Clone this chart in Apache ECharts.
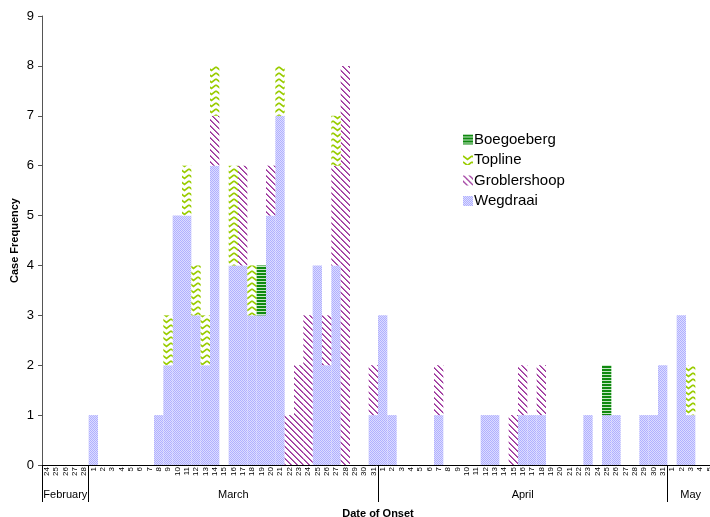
<!DOCTYPE html>
<html>
<head>
<meta charset="utf-8">
<script src="https://cdn.jsdelivr.net/npm/echarts@6/dist/echarts.min.js"></script>
<style>
html,body{margin:0;padding:0;background:#fff;}
#chart{width:710px;height:517px;}
</style>
</head>
<body>
<div id="chart"></div>
<script>
// ---- Data ----
const monthNames = ['February', 'March', 'April', 'May'];
const monthDays = [
  [24, 25, 26, 27, 28],
  [1,2,3,4,5,6,7,8,9,10,11,12,13,14,15,16,17,18,19,20,21,22,23,24,25,26,27,28,29,30,31],
  [1,2,3,4,5,6,7,8,9,10,11,12,13,14,15,16,17,18,19,20,21,22,23,24,25,26,27,28,29,30,31],
  [1, 2, 3, 4, 5]
];
const seriesNames = ['Wegdraai', 'Groblershoop', 'Topline', 'Boegoeberg'];
const legendOrder = ['Boegoeberg', 'Topline', 'Groblershoop', 'Wegdraai'];

// values per day (Feb 24-28 | Mar 1-31 | Apr 1-31 | May 1-5)
const wegdraai = [
  0,0,0,0,0,
  1,0,0,0,0,0,0, 1,2,5,5,3,2,6, 0,4,4,3,3,5,7, 0,0,0,4,2,4,0, 0,0,1,
  3,1,0,0,0,0,1, 0,0,0,0,1,1,0, 0,1,1,1,0,0,0, 0,1,0,1,1,0,0, 1,1,2,
  0,3,1,0,0
];
const groblershoop = [
  0,0,0,0,0,
  0,0,0,0,0,0,0, 0,0,0,0,0,0,1, 0,0,2,0,0,1,0, 1,2,3,0,1,2,8, 0,0,1,
  0,0,0,0,0,0,1, 0,0,0,0,0,0,0, 1,1,0,1,0,0,0, 0,0,0,0,0,0,0, 0,0,0,
  0,0,0,0,0
];
const topline = [
  0,0,0,0,0,
  0,0,0,0,0,0,0, 0,1,0,1,1,1,1, 0,2,0,1,0,0,1, 0,0,0,0,0,1,0, 0,0,0,
  0,0,0,0,0,0,0, 0,0,0,0,0,0,0, 0,0,0,0,0,0,0, 0,0,0,0,0,0,0, 0,0,0,
  0,0,1,0,0
];
const boegoeberg = [
  0,0,0,0,0,
  0,0,0,0,0,0,0, 0,0,0,0,0,0,0, 0,0,0,0,1,0,0, 0,0,0,0,0,0,0, 0,0,0,
  0,0,0,0,0,0,0, 0,0,0,0,0,0,0, 0,0,0,0,0,0,0, 0,0,0,1,0,0,0, 0,0,0,
  0,0,0,0,0
];
const yTicks = [0,1,2,3,4,5,6,7,8,9];

// ---- Build axis categories ----
const dayLabels = [];
const monthLabels = [];
const boundaries = [];
monthDays.forEach(function (days, m) {
  const start = dayLabels.length;
  boundaries.push(start);
  days.forEach(function (d) { dayLabels.push(String(d)); monthLabels.push(''); });
  const mid = start + Math.floor((days.length - 1) / 2);
  monthLabels[mid] = monthNames[m];
});
boundaries.push(dayLabels.length);

// ---- Fill patterns ----
function makePattern(w, h, draw) {
  const c = document.createElement('canvas');
  c.width = w; c.height = h;
  const ctx = c.getContext('2d');
  draw(ctx, w, h);
  return { image: c, repeat: 'repeat' };
}
const wegdraaiFill = makePattern(2, 2, function (ctx) {
  ctx.fillStyle = '#dcdcff'; ctx.fillRect(0, 0, 2, 2);
  ctx.fillStyle = '#b0b0ff'; ctx.fillRect(0, 0, 1, 1); ctx.fillRect(1, 1, 1, 1);
});
const groblerFill = makePattern(6, 6, function (ctx, w, h) {
  ctx.fillStyle = '#ffffff'; ctx.fillRect(0, 0, w, h);
  for (let y = 0; y < h; y++) {
    for (let x = 0; x < w; x++) {
      const k = ((x - y) % 6 + 6) % 6;
      if (k === 0) { ctx.fillStyle = '#993399'; ctx.fillRect(x, y, 1, 1); }
      else if (k === 1) { ctx.fillStyle = '#b866b8'; ctx.fillRect(x, y, 1, 1); }
    }
  }
});
const toplineFill = makePattern(9, 6, function (ctx, w, h) {
  ctx.fillStyle = '#ffffff'; ctx.fillRect(0, 0, w, h);
  ctx.strokeStyle = '#99cc00'; ctx.lineWidth = 1.6;
  ctx.beginPath(); ctx.moveTo(0, 1); ctx.lineTo(4.5, 4.5); ctx.lineTo(9, 1); ctx.stroke();
});
const boegoFill = makePattern(4, 3, function (ctx, w, h) {
  ctx.fillStyle = '#c6e6c6'; ctx.fillRect(0, 0, w, h);
  ctx.fillStyle = '#108a10'; ctx.fillRect(0, 0, w, 2);
});

const fills = [wegdraaiFill, groblerFill, toplineFill, boegoFill];
const values = [wegdraai, groblershoop, topline, boegoeberg];

const FONT = 'Liberation Sans, Arial, sans-serif';

const chart = echarts.init(document.getElementById('chart'), null, { renderer: 'canvas' });
chart.setOption({
  animation: false,
  backgroundColor: '#ffffff',
  textStyle: { fontFamily: FONT, color: '#000' },
  legend: {
    data: legendOrder,
    orient: 'vertical',
    left: 458,
    top: 127,
    itemWidth: 10,
    itemHeight: 10,
    itemGap: 5.5,
    icon: 'rect',
    textStyle: { fontFamily: FONT, fontSize: 15, color: '#000', padding: [0, 0, 0, -4] }
  },
  grid: { left: 42, right: -4, top: 16, bottom: 52, containLabel: false, outerBoundsMode: 'none' },
  xAxis: [
    {
      type: 'category',
      data: dayLabels,
      boundaryGap: true,
      axisLine: { lineStyle: { color: '#000', width: 1 } },
      axisTick: { interval: 0, length: 13, lineStyle: { color: '#000' } },
      axisLabel: { interval: 0, rotate: 90, fontSize: 8, margin: 2, color: '#000', fontFamily: FONT },
      splitLine: { show: false }
    },
    {
      type: 'category',
      data: monthLabels,
      position: 'bottom',
      boundaryGap: true,
      axisLine: { show: false },
      axisTick: {
        show: true,
        length: 37,
        interval: function (i) { return boundaries.indexOf(i) >= 0; },
        lineStyle: { color: '#000' }
      },
      axisLabel: { interval: 0, fontSize: 11, margin: 24, color: '#000', fontFamily: FONT },
      name: 'Date of Onset',
      nameLocation: 'middle',
      nameGap: 43,
      nameTextStyle: { fontSize: 11, fontWeight: 'bold', color: '#000', fontFamily: FONT },
      splitLine: { show: false }
    }
  ],
  yAxis: {
    type: 'value',
    min: yTicks[0],
    max: yTicks[yTicks.length - 1],
    interval: 1,
    axisLine: { show: true, lineStyle: { color: '#555', width: 1 } },
    axisTick: { show: true, length: 4, lineStyle: { color: '#555' } },
    axisLabel: { fontSize: 13, margin: 8, color: '#000', fontFamily: FONT },
    splitLine: { show: false },
    name: 'Case Frequency',
    nameLocation: 'middle',
    nameGap: 22,
    nameMoveOverlap: false,
    nameTextStyle: { fontSize: 11, fontWeight: 'bold', color: '#000', fontFamily: FONT }
  },
  series: seriesNames.map(function (name, i) {
    return {
      name: name,
      type: 'bar',
      stack: 'cases',
      xAxisIndex: 0,
      barWidth: '100%',
      barCategoryGap: '0%',
      itemStyle: { color: fills[i], borderWidth: 0 },
      emphasis: { disabled: true },
      data: values[i].map(function (v) { return v === 0 ? null : v; })
    };
  })
});
</script>
</body>
</html>
